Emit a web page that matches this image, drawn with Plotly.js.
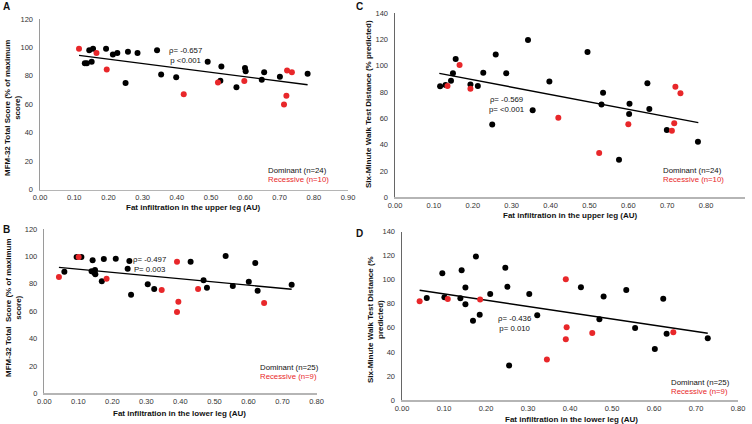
<!DOCTYPE html>
<html>
<head>
<meta charset="utf-8">
<script src="https://cdn.plot.ly/plotly-3.0.1.min.js"></script>
<style>html,body{margin:0;padding:0;background:#fff;}#chart{width:752px;height:424px;}</style>
</head>
<body>
<div id="chart"></div>
<script>
// Panel A: MFM-32 vs upper leg fat infiltration
const A_domX = [0.131,0.137,0.144,0.151,0.155,0.193,0.213,0.226,0.250,0.257,0.285,0.342,0.354,0.398,0.490,0.527,0.530,0.574,0.599,0.601,0.648,0.655,0.701,0.782];
const A_domY = [88.8,88.8,98,90,99,99,95,96,75,97,96,98,81,79,90,76.5,86.5,72,85.6,83.3,77.2,82.6,79.3,81.4];
const A_recX = [0.114,0.165,0.195,0.420,0.520,0.597,0.713,0.720,0.722,0.736];
const A_recY = [99,96,84.4,67,75.3,76.3,59.8,66,83.7,82.6];
const A_trendX = [0.114,0.782];
const A_trendY = [94.4,73.7];

// Panel C: 6MWT vs upper leg fat infiltration
const C_domX = [0.116,0.130,0.144,0.149,0.156,0.194,0.213,0.227,0.250,0.259,0.286,0.342,0.354,0.397,0.495,0.531,0.535,0.576,0.602,0.603,0.649,0.654,0.699,0.779];
const C_domY = [84.4,85.4,88.7,94.3,105.2,85.9,84.7,94.8,55.3,108.7,94.3,119.6,66.2,88.2,110.5,70.7,79.6,28.6,63.4,71.2,86.7,67.2,51.2,42.3];
const C_recX = [0.135,0.166,0.194,0.420,0.525,0.600,0.712,0.718,0.721,0.734];
const C_recY = [84.7,100.6,82.6,60.6,33.7,55.5,50.7,56.3,84.2,79.1];
const C_trendX = [0.114,0.780];
const C_trendY = [94.3,56.8];

// Panel B: MFM-32 vs lower leg fat infiltration
const B_domX = [0.059,0.095,0.109,0.139,0.142,0.147,0.149,0.150,0.169,0.175,0.210,0.245,0.250,0.255,0.304,0.323,0.430,0.468,0.478,0.533,0.554,0.601,0.620,0.627,0.727];
const B_domY = [88.8,99.5,99.5,89.1,97.1,88,90,86.9,81.8,98.1,98.3,91,96.6,72,79.6,76.2,96.1,82.5,77.1,100.2,78.3,81.5,95.1,74.9,79.3];
const B_recX = [0.043,0.101,0.183,0.345,0.390,0.394,0.390,0.452,0.646];
const B_recY = [84.9,99.5,83.6,75.4,96.1,66.9,59.4,76.2,65.9];
const B_trendX = [0.043,0.727];
const B_trendY = [92,76];

// Panel D: 6MWT vs lower leg fat infiltration
const D_domX = [0.059,0.096,0.101,0.139,0.142,0.151,0.151,0.169,0.176,0.185,0.210,0.246,0.251,0.255,0.303,0.322,0.426,0.470,0.480,0.534,0.555,0.602,0.622,0.630,0.728];
const D_domY = [84.9,105.4,85.4,84.6,107.9,93.5,79.6,66,119.3,71,88.2,110.1,94.3,28.8,88.2,70.5,93.8,67.1,86,91.5,59.9,42.4,84.3,55.2,51.3];
const D_recX = [0.042,0.109,0.186,0.345,0.390,0.392,0.390,0.453,0.646];
const D_recY = [82.1,84,83.5,33.6,100.4,60.5,50.5,55.8,56.3];
const D_trendX = [0.042,0.728];
const D_trendY = [91.3,55.5];

const W = 752, H = 424;
const RED = '#e8272a';
const FONT = 'Liberation Sans, Arial, sans-serif';
const px = v => v / W;
const py = v => 1 - v / H;

function scat(x, y, color, xa, ya) {
  return {x: x, y: y, type: 'scatter', mode: 'markers', xaxis: xa, yaxis: ya,
    marker: {color: color, size: 6}, hoverinfo: 'skip'};
}
function trend(x, y, xa, ya) {
  return {x: x, y: y, type: 'scatter', mode: 'lines', xaxis: xa, yaxis: ya,
    line: {color: '#000', width: 1.4}, hoverinfo: 'skip'};
}

const data = [
  trend(A_trendX, A_trendY, 'x', 'y'),
  scat(A_domX, A_domY, '#000', 'x', 'y'),
  scat(A_recX, A_recY, RED, 'x', 'y'),
  trend(C_trendX, C_trendY, 'x2', 'y2'),
  scat(C_domX, C_domY, '#000', 'x2', 'y2'),
  scat(C_recX, C_recY, RED, 'x2', 'y2'),
  trend(B_trendX, B_trendY, 'x3', 'y3'),
  scat(B_domX, B_domY, '#000', 'x3', 'y3'),
  scat(B_recX, B_recY, RED, 'x3', 'y3'),
  trend(D_trendX, D_trendY, 'x4', 'y4'),
  scat(D_domX, D_domY, '#000', 'x4', 'y4'),
  scat(D_recX, D_recY, RED, 'x4', 'y4')
];

const tickFont = {family: FONT, size: 7.5, color: '#333'};
function xax(d, r, anchor) {
  return {domain: d, range: r, dtick: 0.1, tick0: 0, tickformat: '.2f', anchor: anchor,
    showline: true, linecolor: '#b5b5b5', linewidth: 1.5, showgrid: false, zeroline: false,
    ticks: '', tickfont: tickFont, fixedrange: true};
}
function yax(d, r, anchor, lc) {
  return {domain: d, range: r, dtick: 20, tick0: 0, anchor: anchor,
    showline: true, linecolor: lc, linewidth: 1.5, showgrid: false, zeroline: false,
    ticks: '', tickfont: tickFont, ticklabelstandoff: 4, fixedrange: true};
}

function ann(x, y, text, opts) {
  return Object.assign({xref: 'paper', yref: 'paper', x: px(x), y: py(y), text: text,
    showarrow: false, xanchor: 'left', yanchor: 'middle',
    font: {family: FONT, size: 7.8, color: '#111'}}, opts || {});
}
const titleFont = {family: FONT, size: 8, color: '#111'};
const letterFont = {family: FONT, size: 10, color: '#111'};

const annotations = [
  // panel letters
  ann(1, 6, '<b>A</b>', {font: letterFont}),
  ann(1, 229, '<b>B</b>', {font: letterFont}),
  ann(354, 6, '<b>C</b>', {font: letterFont}),
  ann(354, 233, '<b>D</b>', {font: letterFont}),
  // y titles
  ann(12, 108, '<b>MFM-32 Total Score (% of maximum<br>score)</b>', {textangle: -90, xanchor: 'center', font: titleFont}),
  ann(13, 308, '<b>MFM-32 Total  Score (% of maximum<br>score)</b>', {textangle: -90, xanchor: 'center', font: titleFont}),
  ann(369, 104, '<b>Six-Minute Walk Test Distance (% predicted)</b>', {textangle: -90, xanchor: 'center', font: titleFont}),
  ann(375, 320, '<b>Six-Minute Walk Test Distance (%<br>predicted)</b>', {textangle: -90, xanchor: 'center', font: titleFont}),
  // x titles
  ann(193, 207, '<b>Fat infiltration in the upper leg (AU)</b>', {xanchor: 'center', font: titleFont}),
  ann(570, 215, '<b>Fat infiltration in the upper leg (AU)</b>', {xanchor: 'center', font: titleFont}),
  ann(179, 413, '<b>Fat infiltration in the lower leg (AU)</b>', {xanchor: 'center', font: titleFont}),
  ann(571, 419, '<b>Fat infiltration in the lower leg (AU)</b>', {xanchor: 'center', font: titleFont}),
  // stats
  ann(167, 56, 'ρ= -0.657<br>p &lt;0.001'),
  ann(487, 104.5, 'ρ= -0.569<br>p= &lt;0.001'),
  ann(131, 264.5, 'ρ= -0.497<br>P= 0.003'),
  ann(496, 323.5, 'ρ= -0.436<br>p= 0.010'),
  // legends
  ann(266, 170, 'Dominant (n=24)'),
  ann(266, 179, 'Recessive (n=10)', {font: {family: FONT, size: 7.8, color: RED}}),
  ann(661, 170, 'Dominant (n=24)'),
  ann(661, 179, 'Recessive (n=10)', {font: {family: FONT, size: 7.8, color: RED}}),
  ann(258, 367, 'Dominant (n=25)'),
  ann(258, 376, 'Recessive (n=9)', {font: {family: FONT, size: 7.8, color: RED}}),
  ann(669, 382, 'Dominant (n=25)'),
  ann(669, 391, 'Recessive (n=9)', {font: {family: FONT, size: 7.8, color: RED}})
];

const layout = {
  width: W, height: H,
  margin: {l: 0, r: 0, t: 0, b: 0},
  paper_bgcolor: '#fff', plot_bgcolor: 'rgba(0,0,0,0)',
  showlegend: false,
  font: {family: FONT, color: '#111'},
  xaxis: xax([px(40), px(348)], [0, 0.9], 'y'),
  yaxis: yax([py(189.5), py(19)], [0, 120], 'x', '#9a9a9a'),
  xaxis2: xax([px(395), px(745)], [0, 0.9], 'y2'),
  yaxis2: yax([py(197.3), py(13.3)], [0, 140], 'x2', '#666'),
  xaxis3: xax([px(44.3), px(316.5)], [0, 0.8], 'y3'),
  yaxis3: yax([py(393.3), py(229)], [0, 120], 'x3', '#9a9a9a'),
  xaxis4: xax([px(402), px(738)], [0, 0.8], 'y4'),
  yaxis4: yax([py(400), py(231.7)], [0, 140], 'x4', '#666'),
  annotations: annotations
};

Plotly.newPlot('chart', data, layout, {displayModeBar: false, staticPlot: true});
</script>
</body>
</html>
